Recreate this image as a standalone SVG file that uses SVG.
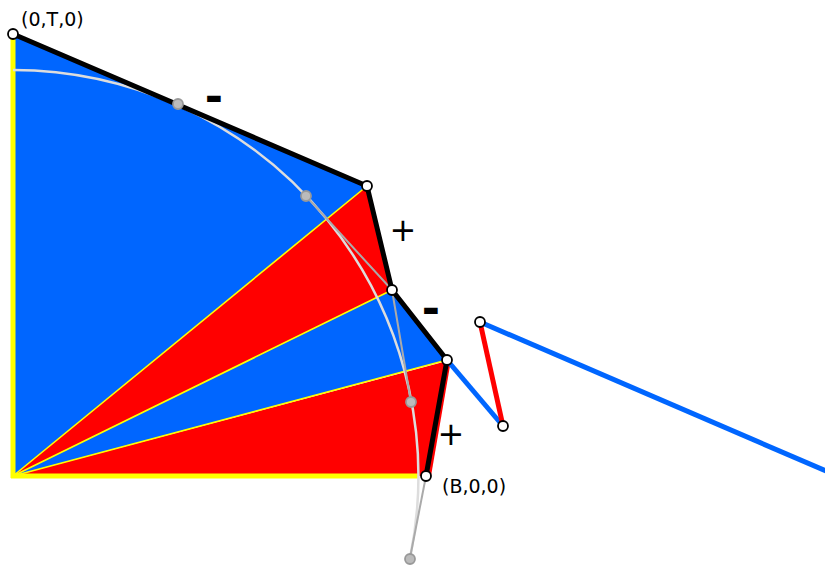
<svg xmlns="http://www.w3.org/2000/svg" width="825" height="565" viewBox="0 0 825 565">
<style>
.blue{fill:#0066ff}
.red{fill:#ff0000}
.ax{stroke:#ffff00;stroke-width:5;fill:none}
.div{stroke:#ffff00;stroke-width:1.6;fill:none}
.arc{stroke:#dddddd;stroke-width:2.5;fill:none}
.tan{stroke:#aaaaaa;stroke-width:2;fill:none}
.poly{stroke:#000;stroke-width:5;fill:none;stroke-linejoin:round}
.bl{stroke:#0066ff;stroke-width:5;fill:none}
.rl{stroke:#ff0000;stroke-width:5;fill:none}
.pt{fill:#fff;stroke:#000;stroke-width:1.8}
.gp{fill:#bbbbbb;stroke:#999999;stroke-width:1.8}
.lbl{font-family:"DejaVu Sans",sans-serif;font-size:19px;fill:#000}
.sgn{font-family:"DejaVu Sans",sans-serif;fill:#000;text-anchor:middle}
</style>
<g id="regions">
<polygon class="blue" points="13,34 367,186 13,476"/>
<polygon class="red" points="13,476 367,186 392,290"/>
<polygon class="blue" points="13,476 392,290 447,360"/>
<polygon class="red" points="13,476 451,360 431,476"/>
</g>
<g id="axes">
<line class="ax" x1="13" y1="34" x2="13" y2="478"/>
<line class="ax" x1="11" y1="476" x2="419" y2="476"/>
<line class="div" x1="13" y1="476" x2="367" y2="186"/>
<line class="div" x1="13" y1="476" x2="392" y2="290"/>
<line class="div" x1="13" y1="476" x2="447" y2="360"/>
</g>
<g id="connectors">
<path class="arc" d="M13 70 A406 406 0 0 1 410 558"/>
<polyline class="tan" points="306,196 392,290 411,402"/>
<line class="tan" x1="426" y1="476" x2="410" y2="558"/>
<line class="bl" x1="447" y1="360" x2="503" y2="426"/>
<line class="rl" x1="503" y1="426" x2="480" y2="322"/>
<line class="bl" x1="480" y1="322" x2="840" y2="477"/>
<polyline class="poly" points="13,34 367,186 392,290 447,360 426,476"/>
</g>
<g id="n-0T0"><circle class="pt" cx="13" cy="34" r="5"/><text class="lbl" x="21" y="26">(0,T,0)</text></g>
<g id="n-v1"><circle class="pt" cx="367" cy="186" r="5"/></g>
<g id="n-v2"><circle class="pt" cx="392" cy="290" r="5"/></g>
<g id="n-v3"><circle class="pt" cx="447" cy="360" r="5"/></g>
<g id="n-B00"><circle class="pt" cx="426" cy="476" r="5"/><text class="lbl" x="442" y="493">(B,0,0)</text></g>
<g id="n-r1"><circle class="pt" cx="480" cy="322" r="5"/></g>
<g id="n-r2"><circle class="pt" cx="503" cy="426" r="5"/></g>
<g id="g1"><circle class="gp" cx="178" cy="104" r="5"/></g>
<g id="g2"><circle class="gp" cx="306" cy="196" r="5"/></g>
<g id="g3"><circle class="gp" cx="411" cy="402" r="5"/></g>
<g id="g4"><circle class="gp" cx="410" cy="559" r="5"/></g>
<g id="signs">
<text class="sgn" x="214" y="112" font-size="44" font-weight="bold">-</text>
<text class="sgn" x="403" y="241" font-size="32">+</text>
<text class="sgn" x="431" y="324" font-size="44" font-weight="bold">-</text>
<text class="sgn" x="451" y="445" font-size="32">+</text>
</g>
</svg>
